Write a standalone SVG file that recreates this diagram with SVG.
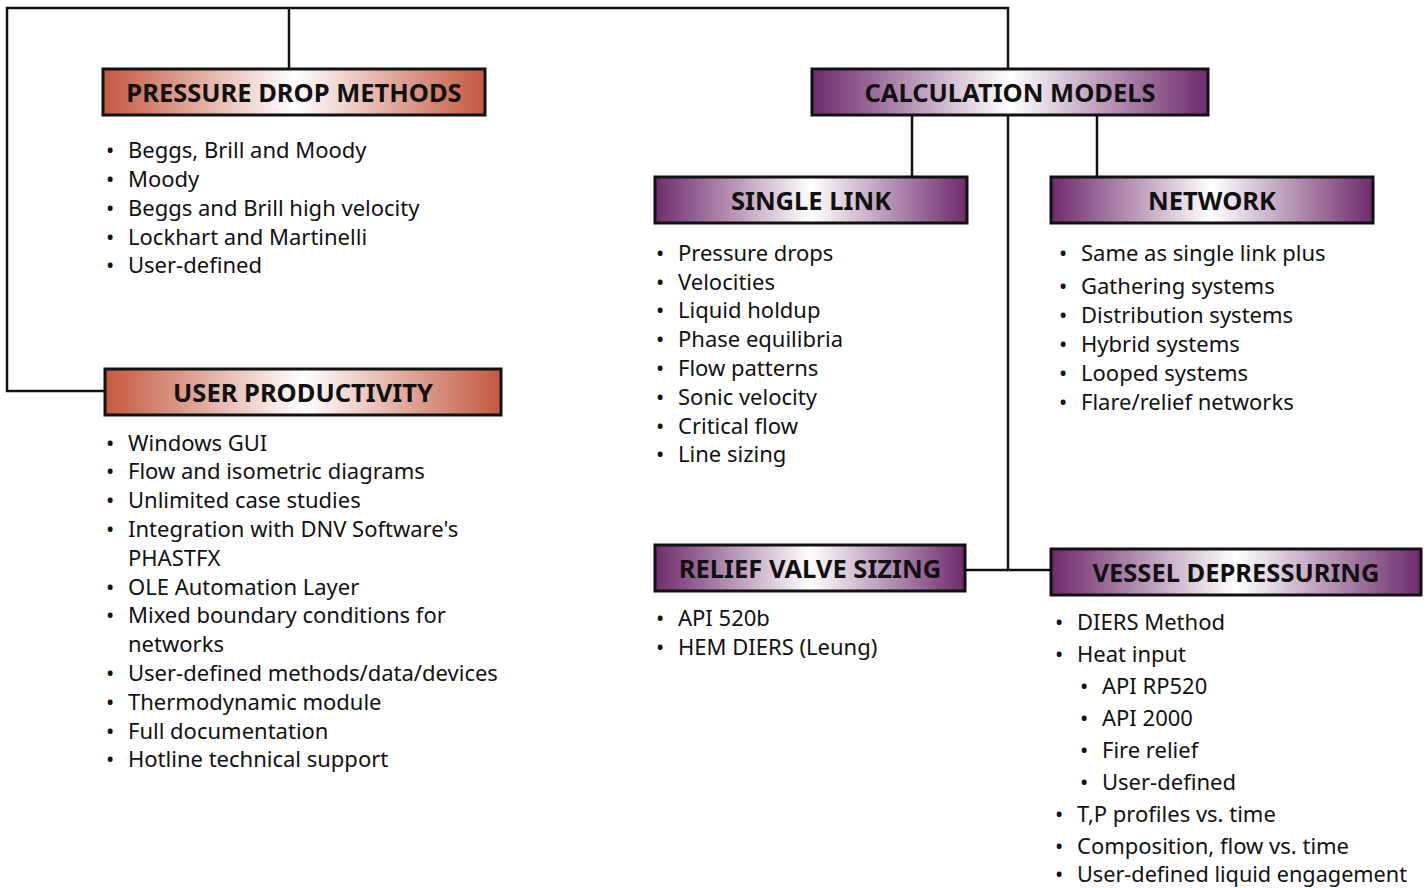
<svg xmlns="http://www.w3.org/2000/svg" width="1428" height="888" viewBox="0 0 1428 888">
<defs>
<linearGradient id="gRed" x1="0" y1="0" x2="1" y2="0">
<stop offset="0" stop-color="#c4583f"/>
<stop offset="0.5" stop-color="#ffffff"/>
<stop offset="1" stop-color="#c4583f"/>
</linearGradient>
<linearGradient id="gPur" x1="0" y1="0" x2="1" y2="0">
<stop offset="0" stop-color="#6e2a6c"/>
<stop offset="0.5" stop-color="#ffffff"/>
<stop offset="1" stop-color="#6e2a6c"/>
</linearGradient>
</defs>
<style>
.box{stroke:#111;stroke-width:3}
.red{fill:url(#gRed)}
.pur{fill:url(#gPur)}
.hd{font-family:"Noto Sans","Open Sans",sans-serif;font-weight:bold;font-size:25.5px;fill:#111;text-anchor:middle}
.tx{font-family:"Noto Sans","Open Sans",sans-serif;font-size:22px;fill:#111}
.con{fill:none;stroke:#111;stroke-width:2.5}
</style>
<rect width="1428" height="888" fill="#fff"/>
<g id="connectors">
<polyline class="con" points="105,391 7,391 7,8 1008,8 1008,69"/>
<line class="con" x1="289" y1="8" x2="289" y2="69"/>
<line class="con" x1="912" y1="115" x2="912" y2="177"/>
<line class="con" x1="1097" y1="115" x2="1097" y2="177"/>
<polyline class="con" points="1008,115 1008,570 1051,570"/>
<line class="con" x1="965" y1="570" x2="1008" y2="570"/>
</g>
<g id="pressure-drop-methods">
<rect class="box red" x="103" y="69" width="382" height="46"/>
<text class="hd" x="294" y="102">PRESSURE DROP METHODS</text>
<g class="tx">
<text x="106" y="158">•</text><text x="128" y="158">Beggs, Brill and Moody</text>
<text x="106" y="187">•</text><text x="128" y="187">Moody</text>
<text x="106" y="216">•</text><text x="128" y="216">Beggs and Brill high velocity</text>
<text x="106" y="245">•</text><text x="128" y="245">Lockhart and Martinelli</text>
<text x="106" y="273">•</text><text x="128" y="273">User-defined</text>
</g>
</g>
<g id="user-productivity">
<rect class="box red" x="105" y="369" width="396" height="46"/>
<text class="hd" x="303" y="402">USER PRODUCTIVITY</text>
<g class="tx">
<text x="106" y="451">•</text><text x="128" y="451">Windows GUI</text>
<text x="106" y="479">•</text><text x="128" y="479">Flow and isometric diagrams</text>
<text x="106" y="508">•</text><text x="128" y="508">Unlimited case studies</text>
<text x="106" y="537">•</text><text x="128" y="537">Integration with DNV Software's</text>
<text x="128" y="566">PHASTFX</text>
<text x="106" y="595">•</text><text x="128" y="595">OLE Automation Layer</text>
<text x="106" y="623">•</text><text x="128" y="623">Mixed boundary conditions for</text>
<text x="128" y="652">networks</text>
<text x="106" y="681">•</text><text x="128" y="681">User-defined methods/data/devices</text>
<text x="106" y="710">•</text><text x="128" y="710">Thermodynamic module</text>
<text x="106" y="739">•</text><text x="128" y="739">Full documentation</text>
<text x="106" y="767">•</text><text x="128" y="767">Hotline technical support</text>
</g>
</g>
<g id="calculation-models">
<rect class="box pur" x="812" y="69" width="396" height="46"/>
<text class="hd" x="1010" y="102">CALCULATION MODELS</text>
</g>
<g id="single-link">
<rect class="box pur" x="655" y="177" width="312" height="46"/>
<text class="hd" x="811" y="210">SINGLE LINK</text>
<g class="tx">
<text x="656" y="261">•</text><text x="678" y="261">Pressure drops</text>
<text x="656" y="290">•</text><text x="678" y="290">Velocities</text>
<text x="656" y="318">•</text><text x="678" y="318">Liquid holdup</text>
<text x="656" y="347">•</text><text x="678" y="347">Phase equilibria</text>
<text x="656" y="376">•</text><text x="678" y="376">Flow patterns</text>
<text x="656" y="405">•</text><text x="678" y="405">Sonic velocity</text>
<text x="656" y="434">•</text><text x="678" y="434">Critical flow</text>
<text x="656" y="462">•</text><text x="678" y="462">Line sizing</text>
</g>
</g>
<g id="network">
<rect class="box pur" x="1051" y="177" width="322" height="46"/>
<text class="hd" x="1212" y="210">NETWORK</text>
<g class="tx">
<text x="1059" y="261">•</text><text x="1081" y="261">Same as single link plus</text>
<text x="1059" y="294">•</text><text x="1081" y="294">Gathering systems</text>
<text x="1059" y="323">•</text><text x="1081" y="323">Distribution systems</text>
<text x="1059" y="352">•</text><text x="1081" y="352">Hybrid systems</text>
<text x="1059" y="381">•</text><text x="1081" y="381">Looped systems</text>
<text x="1059" y="410">•</text><text x="1081" y="410">Flare/relief networks</text>
</g>
</g>
<g id="relief-valve-sizing">
<rect class="box pur" x="655" y="545" width="310" height="46"/>
<text class="hd" x="810" y="578">RELIEF VALVE SIZING</text>
<g class="tx">
<text x="656" y="626">•</text><text x="678" y="626">API 520b</text>
<text x="656" y="655">•</text><text x="678" y="655">HEM DIERS (Leung)</text>
</g>
</g>
<g id="vessel-depressuring">
<rect class="box pur" x="1051" y="549" width="370" height="46"/>
<text class="hd" x="1236" y="582">VESSEL DEPRESSURING</text>
<g class="tx">
<text x="1055" y="630">•</text><text x="1077" y="630">DIERS Method</text>
<text x="1055" y="662">•</text><text x="1077" y="662">Heat input</text>
<text x="1080" y="694">•</text><text x="1102" y="694">API RP520</text>
<text x="1080" y="726">•</text><text x="1102" y="726">API 2000</text>
<text x="1080" y="758">•</text><text x="1102" y="758">Fire relief</text>
<text x="1080" y="790">•</text><text x="1102" y="790">User-defined</text>
<text x="1055" y="822">•</text><text x="1077" y="822">T,P profiles vs. time</text>
<text x="1055" y="854">•</text><text x="1077" y="854">Composition, flow vs. time</text>
<text x="1055" y="882">•</text><text x="1077" y="882" textLength="330" lengthAdjust="spacingAndGlyphs">User-defined liquid engagement</text>
</g>
</g>
</svg>
